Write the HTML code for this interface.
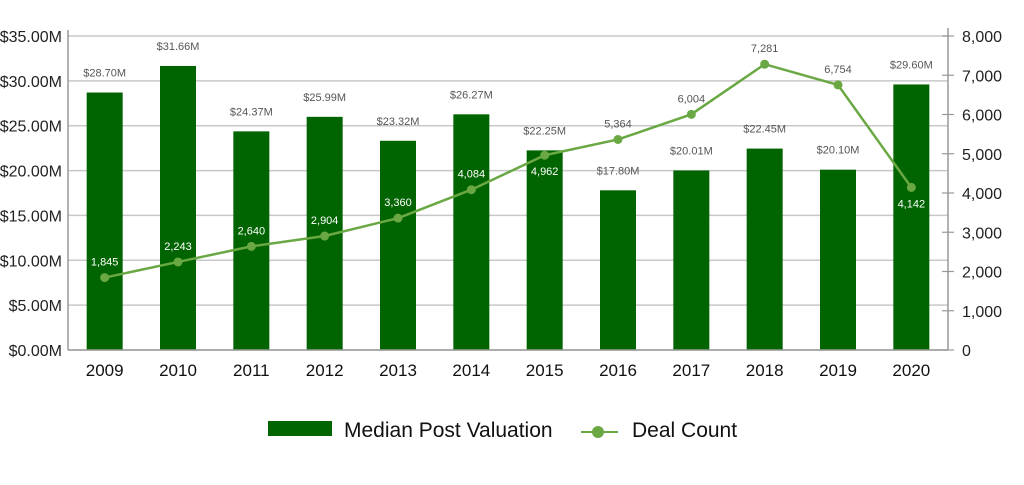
<!DOCTYPE html>
<html><head><meta charset="utf-8"><style>
body{margin:0;background:#fff;}
svg text{font-family:"Liberation Sans",sans-serif;}
</style></head><body>
<svg id="c" width="1024" height="480" xmlns="http://www.w3.org/2000/svg"></svg>
<script>
const years=["2009","2010","2011","2012","2013","2014","2015","2016","2017","2018","2019","2020"];
const valuation=[28.70,31.66,24.37,25.99,23.32,26.27,22.25,17.80,20.01,22.45,20.10,29.60];
const valuationLabels=["$28.70M","$31.66M","$24.37M","$25.99M","$23.32M","$26.27M","$22.25M","$17.80M","$20.01M","$22.45M","$20.10M","$29.60M"];
const deals=[1845,2243,2640,2904,3360,4084,4962,5364,6004,7281,6754,4142];
const dealLabels=["1,845","2,243","2,640","2,904","3,360","4,084","4,962","5,364","6,004","7,281","6,754","4,142"];
const leftTicks=[0,5,10,15,20,25,30,35];
const leftTickLabels=["$0.00M","$5.00M","$10.00M","$15.00M","$20.00M","$25.00M","$30.00M","$35.00M"];
const rightTicks=[0,1000,2000,3000,4000,5000,6000,7000,8000];
const rightTickLabels=["0","1,000","2,000","3,000","4,000","5,000","6,000","7,000","8,000"];

const NS="http://www.w3.org/2000/svg";
const svg=document.getElementById('c');
const L=68,R=948,B=350,T=36;
const yL=v=>B-(v/35)*(B-T);
const yR=v=>B-(v/8000)*(B-T);
const band=(R-L)/years.length;
const xC=i=>L+band*(i+0.5);
function mk(tag,attrs,parent){const e=document.createElementNS(NS,tag);for(const k in attrs)e.setAttribute(k,attrs[k]);(parent||svg).appendChild(e);return e;}

// grid + left ticks
leftTicks.forEach((t,i)=>{
  const g=mk('line',{x1:L,x2:R,y1:yL(t),y2:yL(t),stroke:'#c8c8c8','stroke-width':1.5});
  
  
  const tx=mk('text',{x:L-6,y:yL(t)+6,'text-anchor':'end','font-size':16,fill:'#222'});
  tx.textContent=leftTickLabels[i];
  
  
});
rightTicks.forEach((t,i)=>{
  const tk=mk('line',{x1:R-6,x2:R+6,y1:yR(t),y2:yR(t),stroke:'#999','stroke-width':1.2});
  
  
  const tx=mk('text',{x:R+14,y:yR(t)+6,'font-size':16,fill:'#222'});
  tx.textContent=rightTickLabels[i];
  
  
});
// axes
let a=mk('line',{x1:L,x2:L,y1:30,y2:B,stroke:'#999','stroke-width':1.5});

a=mk('line',{x1:R,x2:R,y1:28,y2:B,stroke:'#999','stroke-width':1.5});


// bars
const bw=36;
valuation.forEach((v,i)=>{
  const r=mk('rect',{x:xC(i)-bw/2,y:yL(v),width:bw,height:B-yL(v),fill:'#006400'});
  
  
  const tx=mk('text',{x:xC(i),y:yL(v)-16,'text-anchor':'middle','font-size':11,fill:'#555'});
  tx.textContent=valuationLabels[i];
  
  
  const yl=mk('text',{x:xC(i),y:376,'text-anchor':'middle','font-size':17,fill:'#111'});
  yl.textContent=years[i];
  
  
});
a=mk('line',{x1:L,x2:R,y1:B,y2:B,stroke:'#999','stroke-width':1.5});


// line
const pl=mk('polyline',{points:deals.map((d,i)=>xC(i)+','+yR(d)).join(' '),fill:'none',stroke:'#6aa843','stroke-width':2.5});


deals.forEach((d,i)=>{
  const c=mk('circle',{cx:xC(i),cy:yR(d),r:4.5,fill:'#6aa843'});
  
  
  const below=(i===6||i===11);
  const tx=mk('text',{x:xC(i),y:below?yR(d)+20:yR(d)-12,'text-anchor':'middle','font-size':11,fill:below?'#fff':'#fff'});
  if(i===7||i===8||i===9||i===10) tx.setAttribute('fill','#555');
  tx.textContent=dealLabels[i];
  
  
});

// legend
let s=mk('rect',{x:268,y:421,width:64,height:15,fill:'#006400'});

let t=mk('text',{x:344,y:437,'font-size':21,fill:'#111'});t.textContent='Median Post Valuation';

s=mk('line',{x1:581,x2:618,y1:432,y2:432,stroke:'#6aa843','stroke-width':2});

s=mk('circle',{cx:598,cy:432,r:6,fill:'#6aa843'});

t=mk('text',{x:632,y:437,'font-size':21,fill:'#111'});t.textContent='Deal Count';

</script>
</body></html>
